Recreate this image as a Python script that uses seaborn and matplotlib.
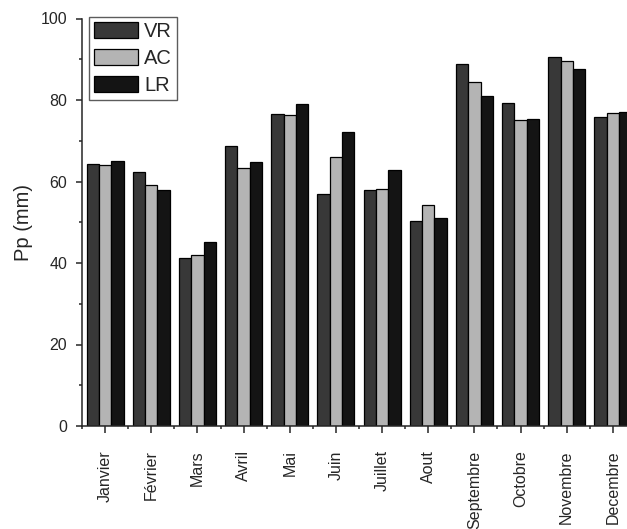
import numpy as np
import pandas as pd
import matplotlib
matplotlib.use('Agg')
import matplotlib.pyplot as plt
import seaborn as sns
from matplotlib.ticker import MultipleLocator

# monthly precipitation by method
months = ['Janvier', 'Février', 'Mars', 'Avril', 'Mai', 'Juin', 'Juillet',
          'Aout', 'Septembre', 'Octobre', 'Novembre', 'Decembre']
vr = [64.2, 62.4, 41.3, 68.6, 76.5, 57.0, 57.8, 50.4, 88.8, 79.3, 90.6, 75.8]
ac = [64.0, 59.1, 41.9, 63.4, 76.4, 65.9, 58.2, 54.2, 84.3, 75.1, 89.6, 76.8]
lr = [65.1, 57.8, 45.2, 64.8, 79.1, 72.1, 62.8, 51.1, 81.0, 75.4, 87.6, 77.0]
series = ['VR', 'AC', 'LR']
colors = ['#383838', '#b4b4b4', '#141414']

df = pd.DataFrame({'mois': months * 3,
                   'Pp': vr + ac + lr,
                   'serie': np.repeat(series, len(months))})

sns.set_style('ticks')
plt.rcParams['font.family'] = ['Liberation Sans', 'DejaVu Sans']

fig = plt.figure(figsize=(6.27, 5.29), dpi=100)
ax = fig.add_axes([82 / 627, 1 - 426 / 529, 554 / 627, 407.5 / 529])

sns.barplot(data=df, x='mois', y='Pp', hue='serie', order=months,
            hue_order=series, palette=colors, width=0.8, edgecolor='black',
            linewidth=0.9, saturation=1, ax=ax)

ax.set_xlim(-0.5, 11.5)
ax.set_ylim(0, 100)
ax.yaxis.set_major_locator(MultipleLocator(20))
ax.yaxis.set_minor_locator(MultipleLocator(10))
ax.set_xticks(np.arange(-0.5, 12, 1), minor=True)
ax.tick_params(axis='x', which='major', length=5, width=1.1, labelsize=11.5,
               labelrotation=90, pad=12.5)
ax.tick_params(axis='x', which='minor', length=2.5, width=1.1)
ax.tick_params(axis='y', which='major', length=4.3, width=1.1, labelsize=11.5,
               pad=6.5)
ax.tick_params(axis='y', which='minor', length=2.5, width=1.1)
for s in ['top', 'right']:
    ax.spines[s].set_visible(False)
for s in ['left', 'bottom']:
    ax.spines[s].set_linewidth(1.1)

ax.set_xlabel('')
ax.set_ylabel('Pp (mm)', fontsize=14.5, labelpad=5)

leg = ax.legend(loc='upper left', bbox_to_anchor=(89 / 627, 1 - 17 / 529),
                bbox_transform=fig.transFigure, borderaxespad=0,
                fontsize=14.5, handlelength=2.2, handleheight=0.85,
                handletextpad=0.3, labelspacing=0.4, borderpad=0.25,
                fancybox=False, frameon=True, title=None)
leg.get_frame().set_edgecolor('#333333')
leg.get_frame().set_linewidth(1.0)

fig.savefig('out.png', dpi=100)
